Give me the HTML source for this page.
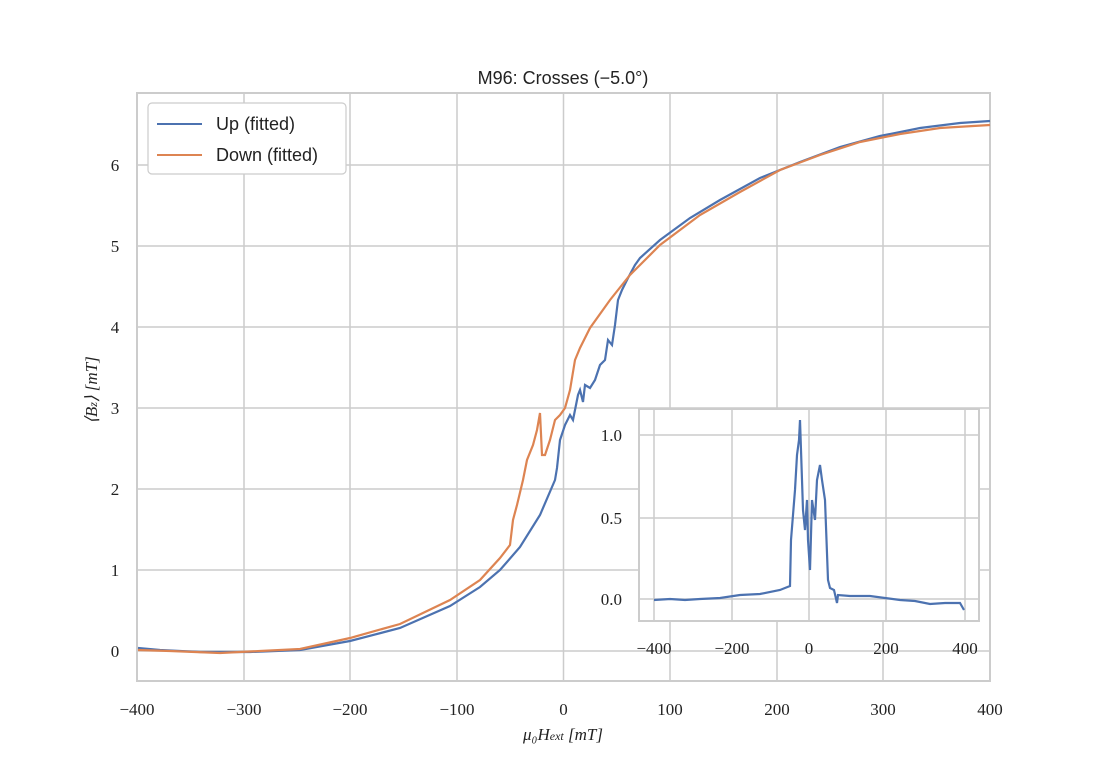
<!DOCTYPE html>
<html><head><meta charset="utf-8"><style>body{margin:0;background:#fff}svg{display:block}</style></head><body>
<svg width="1101" height="779" xmlns="http://www.w3.org/2000/svg" font-family="Liberation Serif, serif">
<rect width="1101" height="779" fill="#fff"/>
<g stroke="#cccccc" stroke-width="1.5">
<line x1="244" y1="93" x2="244" y2="681"/><line x1="350" y1="93" x2="350" y2="681"/><line x1="457" y1="93" x2="457" y2="681"/><line x1="563.5" y1="93" x2="563.5" y2="681"/><line x1="670" y1="93" x2="670" y2="681"/><line x1="777" y1="93" x2="777" y2="681"/><line x1="883" y1="93" x2="883" y2="681"/>
<line x1="137" y1="651" x2="990" y2="651"/><line x1="137" y1="570" x2="990" y2="570"/><line x1="137" y1="489" x2="990" y2="489"/><line x1="137" y1="408" x2="990" y2="408"/><line x1="137" y1="327" x2="990" y2="327"/><line x1="137" y1="246" x2="990" y2="246"/><line x1="137" y1="165" x2="990" y2="165"/>
<rect x="137" y="93" width="853" height="588" fill="none" stroke-width="2"/>
</g>
<polyline fill="none" stroke="#4c72b0" stroke-width="2.2" points="138,648 160,650 200,652 250,652 300,650 350,641 400,628 450,606 480,587 500,570 520,547 540,515 555,480 557,468 560,440 565,425 570,415 573,420 578,395 580,390 583,402 585,385 590,388 595,380 600,365 605,360 608,340 612,345 615,325 618,300 622,290 628,278 635,265 640,258 660,240 690,218 720,200 760,178 800,162 840,147 880,136 920,128 960,123 990,121"/>
<polyline fill="none" stroke="#dd8452" stroke-width="2.2" points="138,650 170,651 220,653 260,651 300,649 350,638 400,624 450,600 480,580 500,558 510,545 513,520 517,505 523,480 527,460 533,445 537,430 540,413 542,455 545,455 550,440 555,420 560,415 565,408 570,390 575,360 580,348 590,328 610,300 630,275 660,245 700,215 740,192 780,170 820,155 860,142 900,134 940,128 990,125"/>
<g font-size="17" fill="#222" text-anchor="middle">
<text x="137" y="715">−400</text><text x="244" y="715">−300</text><text x="350" y="715">−200</text><text x="457" y="715">−100</text><text x="563.5" y="715">0</text><text x="670" y="715">100</text><text x="777" y="715">200</text><text x="883" y="715">300</text><text x="990" y="715">400</text>
<text x="115" y="657">0</text><text x="115" y="576">1</text><text x="115" y="495">2</text><text x="115" y="414">3</text><text x="115" y="333">4</text><text x="115" y="252">5</text><text x="115" y="171">6</text>
<text x="563" y="740" font-style="italic">μ₀H<tspan font-size="12">ext</tspan> [mT]</text>
<text transform="translate(97,390) rotate(-90)" font-style="italic">⟨B<tspan font-size="12">z</tspan>⟩ [mT]</text>
<text x="563" y="84" font-family="Liberation Sans, sans-serif" font-size="18">M96: Crosses (−5.0°)</text>
</g>
<rect x="148" y="103" width="198" height="71" rx="4" fill="#fff" stroke="#cccccc" stroke-width="1.2"/>
<line x1="157" y1="124" x2="202" y2="124" stroke="#4c72b0" stroke-width="2"/>
<line x1="157" y1="155" x2="202" y2="155" stroke="#dd8452" stroke-width="2"/>
<g font-family="Liberation Sans, sans-serif" font-size="18" fill="#222"><text x="216" y="130">Up (fitted)</text><text x="216" y="161">Down (fitted)</text></g>
<rect x="639" y="409" width="340" height="212" fill="#fff"/>
<g stroke="#cccccc" stroke-width="1.5">
<line x1="654" y1="409" x2="654" y2="621"/><line x1="732" y1="409" x2="732" y2="621"/><line x1="809" y1="409" x2="809" y2="621"/><line x1="886" y1="409" x2="886" y2="621"/><line x1="965" y1="409" x2="965" y2="621"/>
<line x1="639" y1="435" x2="979" y2="435"/><line x1="639" y1="518" x2="979" y2="518"/><line x1="639" y1="599" x2="979" y2="599"/>
<rect x="639" y="409" width="340" height="212" fill="none" stroke-width="2"/>
</g>
<polyline fill="none" stroke="#4c72b0" stroke-width="2.2" points="654,600 670,599 685,600 700,599 720,598 740,595 760,594 780,590 790,586 791,540 795,490 797,455 799,440 800,420 801,450 803,510 805,530 807,500 808,540 810,570 812,500 815,520 817,480 820,465 822,480 825,500 828,580 830,588 834,590 837,603 838,595 850,596 870,596 885,598 900,600 915,601 930,604 945,603 960,603 964,610"/>
<g font-size="17" fill="#222">
<g text-anchor="middle"><text x="654" y="654">−400</text><text x="732" y="654">−200</text><text x="809" y="654">0</text><text x="886" y="654">200</text><text x="965" y="654">400</text></g>
<g text-anchor="end"><text x="622" y="441">1.0</text><text x="622" y="524">0.5</text><text x="622" y="605">0.0</text></g>
</g>
</svg>
</body></html>
